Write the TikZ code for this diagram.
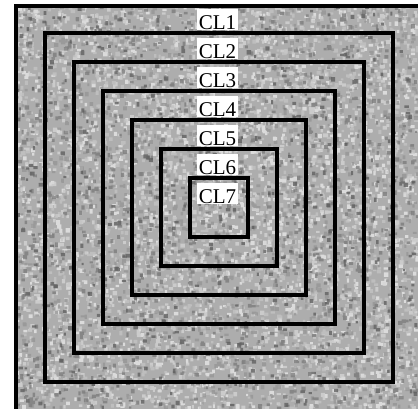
\documentclass[tikz,border=0pt]{standalone}
\usepackage{fontspec}
\setmainfont{Liberation Serif}
\tikzset{
  sq/.style={draw=black, line width=4pt, minimum size=#1, inner sep=0pt, outer sep=0pt},
  frame/.style={draw=black, line width=4pt},
  lab/.style={fill=white, font=\fontsize{21}{21}\selectfont, text height=20pt, text depth=1pt,
              inner xsep=1.5pt, inner ysep=0pt, anchor=base}
}
\begin{document}
\begin{tikzpicture}[x=1pt,y=-1pt]
\useasboundingbox (0,0) rectangle (418,409);
\fill[white] (0,0) rectangle (418,409);
\begin{scope}
  \clip (16,6) rectangle (418,409);
  \fill[black!32] (16,6) rectangle (418,409);
  \pgfmathsetseed{11}
  \foreach \g/\n in {8/1700,16/1800,23/1700,42/1500,52/1100,64/500}{
    \fill[black!\g, fill opacity=0.75] \foreach \i in {1,...,\n}{
      ({16+rnd*400},{6+rnd*401}) rectangle ++({2+rnd*2.5},{2+rnd*2.5})
    };
  }
\end{scope}
\coordinate (c) at (218.5,207.5);
\coordinate (fa) at (16,409);
\coordinate (fb) at (16,6);
\coordinate (fc) at (418,6);
\draw[frame] (fa) -- (fb) -- (fc);
\node[sq=348pt] (sq6) at (c) {};
\node[sq=290pt] (sq5) at (c) {};
\node[sq=232pt] (sq4) at (c) {};
\node[sq=174pt] (sq3) at (c) {};
\node[sq=116pt] (sq2) at (c) {};
\node[sq=58pt]  (sq1) at (c) {};
\node[lab] (l1) at (217.5,29.5)  {CL1};
\node[lab] (l2) at (217.5,58.5)  {CL2};
\node[lab] (l3) at (217.5,87.5)  {CL3};
\node[lab] (l4) at (217.5,116.5) {CL4};
\node[lab] (l5) at (217.5,145.5) {CL5};
\node[lab] (l6) at (217.5,174.5) {CL6};
\node[lab] (l7) at (217.5,203.5) {CL7};
\end{tikzpicture}
\end{document}
